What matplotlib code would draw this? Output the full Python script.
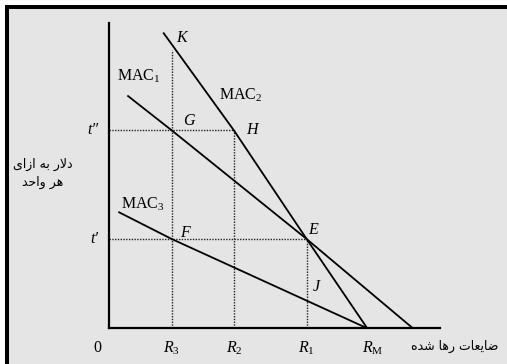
import matplotlib
matplotlib.use('Agg')
import matplotlib.pyplot as plt
from matplotlib.patches import Rectangle

plt.rcParams['font.family'] = ['Liberation Serif']
plt.rcParams['mathtext.fontset'] = 'custom'
plt.rcParams['mathtext.rm'] = 'Liberation Serif'
plt.rcParams['mathtext.it'] = 'Liberation Serif:italic'

# ---------------- data ----------------
x_tick_values = [0, 24.2, 48.3, 76.5, 100]
x_tick_labels = ['0', r'$R_3$', r'$R_2$', r'$R_1$', r'$R_\mathrm{M}$']
t_low = 34.6     # t'
t_high = 76.7    # t''
t_labels = ['t\u2032', 't\u2033']
r3_top = 107.9

mac1_x = [7.0, 24.2, 76.5, 117.7]
mac1_y = [90.2, 76.7, 34.6, 0.0]
mac2_x = [20.9, 48.3, 76.5, 100.0]
mac2_y = [114.6, 76.7, 34.6, 0.0]
mac3_x = [3.5, 24.2, 100.0]
mac3_y = [45.1, 34.6, 0.0]

y_label_lines = ['دلار به ازای', 'هر واحد']
x_label = 'ضایعات رها شده'

# ------------- minimal Arabic-script shaping -------------
FORMS = {
    'ا': ('\uFE8D', '\uFE8E', None, None),
    'د': ('\uFEA9', '\uFEAA', None, None),
    'ر': ('\uFEAD', '\uFEAE', None, None),
    'ز': ('\uFEAF', '\uFEB0', None, None),
    'و': ('\uFEED', '\uFEEE', None, None),
    'ل': ('\uFEDD', '\uFEDE', '\uFEDF', '\uFEE0'),
    'ب': ('\uFE8F', '\uFE90', '\uFE91', '\uFE92'),
    'ه': ('\uFEE9', '\uFEEA', '\uFEEB', '\uFEEC'),
    'ی': ('\uFBFC', '\uFBFD', '\uFBFE', '\uFBFF'),
    'ح': ('\uFEA1', '\uFEA2', '\uFEA3', '\uFEA4'),
    'ض': ('\uFEBD', '\uFEBE', '\uFEBF', '\uFEC0'),
    'ع': ('\uFEC9', '\uFECA', '\uFECB', '\uFECC'),
    'ت': ('\uFE95', '\uFE96', '\uFE97', '\uFE98'),
    'ش': ('\uFEB5', '\uFEB6', '\uFEB7', '\uFEB8'),
}
LAMALEF = ('\uFEFB', '\uFEFC')


def shape(text):
    units = []
    i = 0
    while i < len(text):
        if text[i] == 'ل' and i + 1 < len(text) and text[i + 1] == 'ا':
            units.append('LA')
            i += 2
        else:
            units.append(text[i])
            i += 1

    def joins_forward(u):
        return u in FORMS and FORMS[u][2] is not None

    def is_letter(u):
        return u in FORMS or u == 'LA'

    out = []
    for k, u in enumerate(units):
        prev = units[k - 1] if k > 0 else None
        nxt = units[k + 1] if k + 1 < len(units) else None
        jp = prev is not None and joins_forward(prev) and is_letter(u)
        if u == 'LA':
            out.append(LAMALEF[1] if jp else LAMALEF[0])
            continue
        if u not in FORMS:
            out.append(u)
            continue
        jn = joins_forward(u) and nxt is not None and is_letter(nxt)
        f = FORMS[u]
        if jp and jn:
            out.append(f[3])
        elif jp:
            out.append(f[1])
        elif jn:
            out.append(f[2])
        else:
            out.append(f[0])
    return ''.join(reversed(out))


# ---------------- figure ----------------
W, H = 507, 364
fig = plt.figure(figsize=(W / 100, H / 100), dpi=100)
fig.patch.set_facecolor('white')
fig.add_artist(Rectangle((5 / W, 0), (W - 5) / W, (H - 5) / H,
                         transform=fig.transFigure, facecolor='black',
                         edgecolor='none', zorder=-10))
fig.add_artist(Rectangle((9 / W, 0), (W - 9) / W, (H - 9) / H,
                         transform=fig.transFigure, facecolor='#e5e5e5',
                         edgecolor='none', zorder=-9))

ox, oy = 109.3, 328.3
ax = fig.add_axes([ox / W, (H - oy) / H, (440 - ox) / W, (oy - 23) / H])
ax.set_facecolor('none')
ax.set_xlim(0, 128.2)
ax.set_ylim(0, 118.3)
for s in ['top', 'right']:
    ax.spines[s].set_visible(False)
for s in ['left', 'bottom']:
    ax.spines[s].set_linewidth(1.6)
    ax.spines[s].set_color('black')
ax.set_xticks([])
ax.set_yticks([])

dot = dict(color='#222222', lw=1.0, ls=(0, (1, 1)), clip_on=False)
ax.plot([0, mac2_x[1]], [t_high, t_high], **dot)
ax.plot([0, mac1_x[2]], [t_low, t_low], **dot)
ax.plot([x_tick_values[1]] * 2, [0, r3_top], **dot)
ax.plot([x_tick_values[2]] * 2, [0, t_high], **dot)
ax.plot([x_tick_values[3]] * 2, [0, t_low], **dot)

line = dict(color='black', lw=1.3, clip_on=False, solid_capstyle='butt')
ax.plot(mac1_x, mac1_y, **line)
ax.plot(mac2_x, mac2_y, **line)
ax.plot(mac3_x, mac3_y, **line)

fs = 11.5
txt = dict(fontsize=fs, clip_on=False)
ax.text(2.9, 95.9, r'MAC$_1$', ha='left', va='baseline', **txt)
ax.text(42.5, 88.5, r'MAC$_2$', ha='left', va='baseline', **txt)
ax.text(4.4, 46.5, r'MAC$_3$', ha='left', va='baseline', **txt)

pts = [('K', 28.1, 112.4), ('G', 31.0, 80.3), ('H', 55.2, 76.9),
       ('E', 79.1, 38.1), ('J', 80.4, 16.0), ('F', 29.3, 36.8)]
for lab, x, y in pts:
    ax.text(x, y, lab, style='italic', ha='center', va='center', **txt)

ax.text(-4.4, t_high, t_labels[1], style='italic', ha='right', va='center', **txt)
ax.text(-4.4, t_low, t_labels[0], style='italic', ha='right', va='center', **txt)

for v, lab in zip(x_tick_values, x_tick_labels):
    if lab == r'$R_\mathrm{M}$':
        ax.text(v - 2.2, -7.8, lab, ha='left', va='center', **txt)
    elif lab == '0':
        ax.text(v - 4.8, -7.8, lab, ha='center', va='center', **txt)
    else:
        ax.text(v, -7.8, lab, ha='center', va='center', **txt)

pf = dict(family=['DejaVu Sans'], fontsize=9, ha='center', va='center')
fig.text(42.5 / W, 1 - 164 / H, shape(y_label_lines[0]), **pf)
fig.text(42.5 / W, 1 - 182 / H, shape(y_label_lines[1]), **pf)
fig.text(455 / W, 1 - 346 / H, shape(x_label), **pf)

fig.savefig('out.png', dpi=100)
